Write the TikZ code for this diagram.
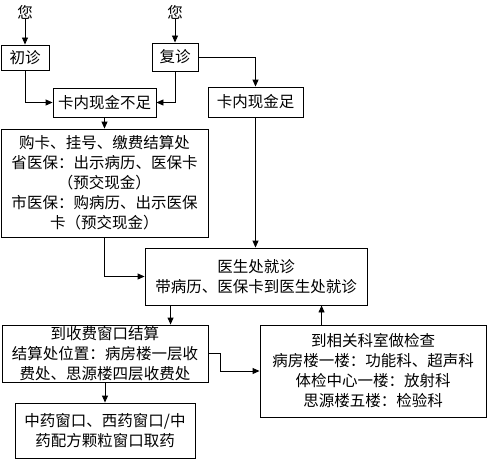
\documentclass[tikz,border=0pt]{standalone}
\usepackage{fontspec}
\setmainfont{Noto Sans CJK SC}
\usetikzlibrary{arrows.meta}
\tikzset{
  box/.style={draw, line width=0.9pt, inner sep=0pt, align=center,
    font=\fontsize{15.5}{20}\selectfont},
  lbl/.style={inner sep=0pt, font=\fontsize{15.5}{20}\selectfont},
  arr/.style={line width=0.9pt, -{Triangle[length=7pt,width=6pt]}},
  ln/.style={line width=0.9pt}
}
\begin{document}
\begin{tikzpicture}[x=1pt,y=-1pt]
\useasboundingbox (0,0) rectangle (487,460);
\node[lbl] (you1) at (25,12) {您};
\node[lbl] (you2) at (175,12) {您};
\node[box, minimum width=48, minimum height=25] (chu) at (25,57.5) {初诊};
\node[box, minimum width=46, minimum height=28] (fu) at (175,57) {复诊};
\node[box, minimum width=103, minimum height=29] (buzu) at (104.5,102.5) {卡内现金不足};
\node[box, minimum width=95, minimum height=30] (zu) at (255.5,102) {卡内现金足};
\node[box, minimum width=207, minimum height=108] (big) at (104.5,183) {购卡、挂号、缴费结算处\\省医保：出示病历、医保卡\\（预交现金）\\市医保：购病历、出示医保\\卡（预交现金）};
\node[box, minimum width=222, minimum height=57] (doc) at (256,276.5) {医生处就诊\\带病历、医保卡到医生处就诊};
\node[box, minimum width=206, minimum height=57] (pay) at (105,353.5) {到收费窗口结算\\结算处位置：病房楼一层收\\费处、思源楼四层收费处};
\node[box, minimum width=226, minimum height=92] (check) at (373,371) {到相关科室做检查\\病房楼一楼：功能科、超声科\\体检中心一楼：放射科\\思源楼五楼：检验科};
\node[box, minimum width=180, minimum height=55] (med) at (105,430.5) {中药窗口、西药窗口/中\\药配方颗粒窗口取药};

\draw[arr] (you1.south) -- (chu.north);
\draw[arr] (you2.south) -- (fu.north);
\draw[arr] (chu.south) |- (buzu.west);
\draw[arr] (fu.south) |- (buzu.east);
\draw[arr] (fu.east) -| (zu.north);
\draw[arr] (buzu.south) -- (big.north);
\draw[arr] (big.south) |- (doc.west);
\draw[arr] (zu.south) -- (zu.south |- doc.north);
\draw[arr] ([xshift=26pt]doc.south west) -- ([xshift=26pt]doc.south west |- pay.north);
\draw[arr] ([xshift=62pt]check.north west) -- ([xshift=62pt]check.north west |- doc.south);
\draw[arr] (pay.east) -- ++(12,0) |- (check.west);
\draw[arr] (pay.south) -- (med.north);
\end{tikzpicture}
\end{document}
